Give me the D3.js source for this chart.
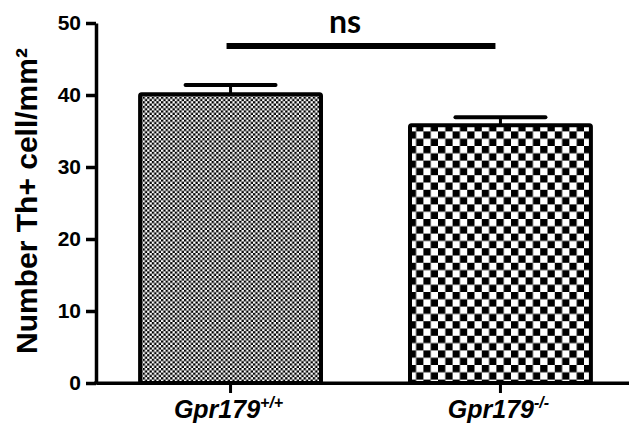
<!DOCTYPE html>
<html><head><meta charset="utf-8">
<script src="https://cdn.jsdelivr.net/npm/d3@7"></script>
<style>html,body{margin:0;padding:0;background:#fff;}</style>
</head><body>
<svg id="chart" width="629" height="429"></svg>
<script>
const categories = ["Gpr179+/+", "Gpr179-/-"];
const labelMain = ["Gpr179", "Gpr179"];
const labelSup = ["+/+", "-/-"];
const means = [40.1, 35.8];
const errors = [1.3, 1.1];
const yTicks = [0, 10, 20, 30, 40, 50];
const sigLabel = "ns";
const sigValue = 46.8;
const yTitle = "Number Th+ cell/mm²";

const svg = d3.select("#chart");
const y = d3.scaleLinear().domain([0, 50]).range([383, 23]);
const x = d3.scaleBand().domain(categories).range([96, 635]).paddingInner(0.315).paddingOuter(0.156);
const bw = x.bandwidth();

// patterns
const defs = svg.append("defs");
function checker(id, c) {
  const p = defs.append("pattern").attr("id", id).attr("patternUnits", "userSpaceOnUse")
    .attr("width", 2 * c).attr("height", 2 * c);
  p.append("rect").attr("width", 2 * c).attr("height", 2 * c).attr("fill", "#fff");
  p.append("rect").attr("width", c).attr("height", c).attr("fill", "#000");
  p.append("rect").attr("x", c).attr("y", c).attr("width", c).attr("height", c).attr("fill", "#000");
}
checker("p0", 2.3);
checker("p1", 7.3);

const sw = 4;
// bars
svg.selectAll("rect.bar").data(categories).join("rect").attr("class", "bar")
  .attr("x", d => x(d) + sw / 2)
  .attr("width", bw - sw)
  .attr("y", (d, i) => y(means[i]))
  .attr("height", (d, i) => y(0) - y(means[i]))
  .attr("fill", (d, i) => `url(#p${i})`)
  .attr("stroke", "#000").attr("stroke-width", sw).attr("rx", 1.5);

// error bars
categories.forEach((c, i) => {
  const cx = x(c) + bw / 2;
  svg.append("line").attr("x1", cx).attr("x2", cx)
    .attr("y1", y(means[i])).attr("y2", y(means[i] + errors[i]))
    .attr("stroke", "#000").attr("stroke-width", 3);
  svg.append("line").attr("x1", cx - 45).attr("x2", cx + 45)
    .attr("y1", y(means[i] + errors[i])).attr("y2", y(means[i] + errors[i]))
    .attr("stroke", "#000").attr("stroke-width", 4).attr("stroke-linecap", "round");
});

// y axis
const yAxis = svg.append("g").attr("transform", "translate(96,0)")
  .call(d3.axisLeft(y).tickValues(yTicks).tickSize(10).tickSizeOuter(0).tickPadding(5));
yAxis.selectAll("path,line").attr("stroke", "#000").attr("stroke-width", 3.5);
yAxis.selectAll("text").attr("font-family", "Liberation Sans, Arial, sans-serif")
  .attr("font-weight", "bold").attr("font-size", 21).attr("fill", "#000");

// x axis
const xAxis = svg.append("g").attr("transform", "translate(0,383)")
  .call(d3.axisBottom(x).tickSize(10).tickSizeOuter(0).tickFormat(""));
xAxis.select("path").attr("stroke", "#000").attr("stroke-width", 3);
xAxis.selectAll("line").attr("stroke", "#000").attr("stroke-width", 3);
svg.append("line").attr("x1", 94).attr("x2", 629).attr("y1", 383).attr("y2", 383)
  .attr("stroke", "#000").attr("stroke-width", 3);

// x labels
categories.forEach((c, i) => {
  const t = svg.append("text").attr("x", x(c) + bw / 2 - 2).attr("y", 418)
    .attr("text-anchor", "middle")
    .attr("font-family", "Liberation Sans, Arial, sans-serif")
    .attr("font-weight", "bold").attr("font-style", "italic").attr("font-size", 25).attr("fill", "#000");
  t.append("tspan").text(labelMain[i]);
  t.append("tspan").attr("dy", -10).attr("font-size", 16).text(labelSup[i]);
});

// y title
svg.append("text").attr("transform", "translate(37,201) rotate(-90)")
  .attr("text-anchor", "middle")
  .attr("font-family", "Liberation Sans, Arial, sans-serif")
  .attr("font-weight", "bold").attr("font-size", 30).attr("fill", "#000")
  .text(yTitle);

// significance
const x1 = x(categories[0]) + bw / 2 - 4;
const x2 = x(categories[1]) + bw / 2 - 5;
svg.append("line").attr("x1", x1).attr("x2", x2).attr("y1", y(sigValue)).attr("y2", y(sigValue))
  .attr("stroke", "#000").attr("stroke-width", 6);
svg.append("text").attr("x", (x1 + x2) / 2 - 16).attr("y", 33)
  .attr("text-anchor", "middle").attr("font-family", "Lato, sans-serif").attr("font-weight", "bold")
  .attr("font-size", 32).attr("fill", "#000").text(sigLabel);
</script>
</body></html>
